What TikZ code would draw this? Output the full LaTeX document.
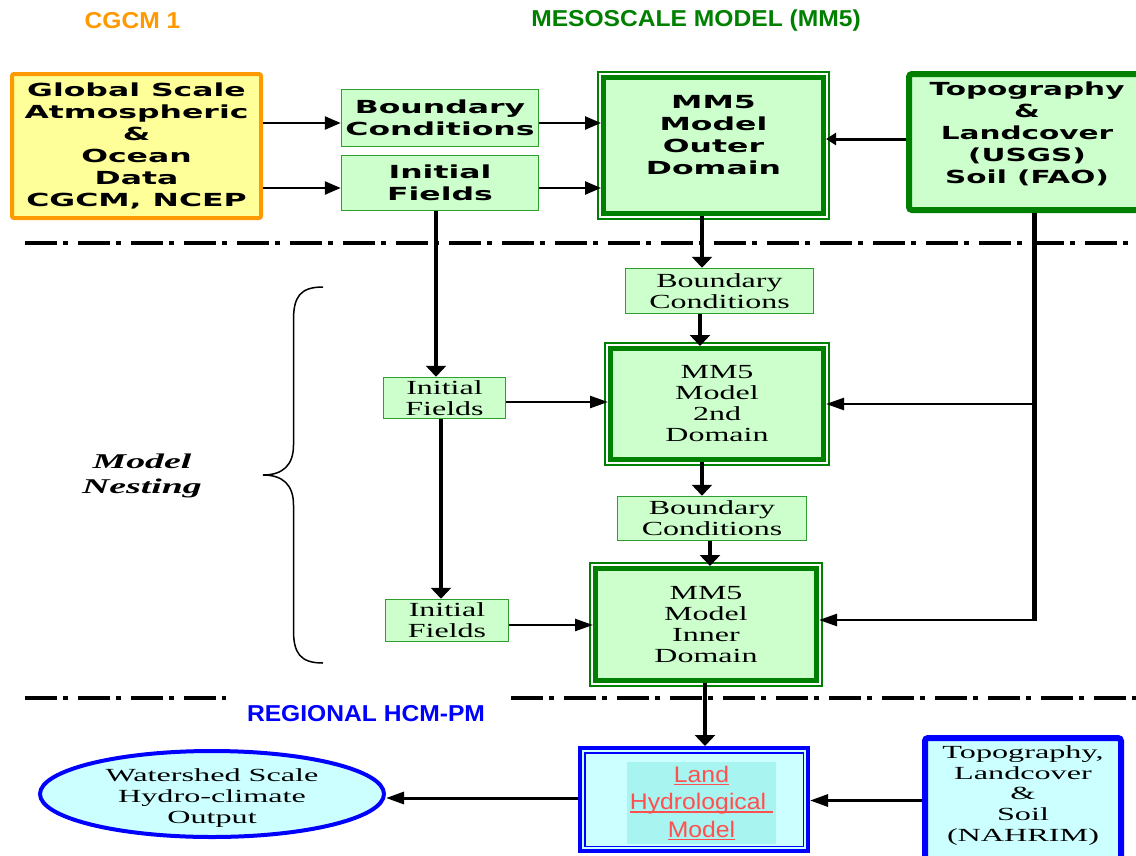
\documentclass[tikz,border=0pt]{standalone}
\usepackage{fontspec}
\usetikzlibrary{arrows.meta,shapes.geometric}
\newfontfamily\topfont[FakeStretch=1.75]{DejaVu Sans}
\newfontfamily\topofont[FakeStretch=1.64]{DejaVu Sans}
\newfontfamily\midfont[FakeStretch=1.6]{Liberation Serif}
\newfontfamily\lowfont[FakeStretch=1.74]{Liberation Serif}
\newfontfamily\nestfont[FakeStretch=1.8]{Liberation Serif}
\newfontfamily\headfont[FakeStretch=1.07]{Liberation Sans}
\newfontfamily\landfont[FakeStretch=1.1]{Liberation Sans}
\newcommand\myul[1]{\setbox0\hbox{#1}\leavevmode\rlap{\rule[-3pt]{\wd0}{1.5pt}}\copy0}
\definecolor{orng}{HTML}{FF9900}
\definecolor{yelo}{HTML}{FFFF99}
\definecolor{dgreen}{HTML}{008000}
\definecolor{sgreen}{HTML}{2E9E2E}
\definecolor{lgreen}{HTML}{CCFFCC}
\definecolor{bblue}{HTML}{0000FF}
\definecolor{lcyan}{HTML}{CCFFFF}
\definecolor{teal2}{HTML}{A8F4F0}
\definecolor{redtxt}{HTML}{FF5050}
\begin{document}
\begin{tikzpicture}[x=1pt,y=-1pt,
  topt/.style={font=\topfont\bfseries\fontsize{18}{22}\selectfont, align=center},
  topot/.style={font=\topofont\bfseries\fontsize{18}{22}\selectfont, align=center},
  midt/.style={font=\midfont\fontsize{20}{21}\selectfont, align=center},
  lowt/.style={font=\lowfont\fontsize{18.5}{20.7}\selectfont, align=center},
  headt/.style={font=\headfont\bfseries\fontsize{23}{26}\selectfont},
  gsabox/.style={draw=orng, line width=4pt, fill=yelo, rounded corners=2pt, inner sep=0pt},
  smallbox/.style={draw=sgreen, line width=1.5pt, fill=lgreen, inner sep=0pt},
  dombox/.style={draw=dgreen, line width=5pt, fill=lgreen, inner sep=0pt},
  topobox/.style={draw=dgreen, line width=6pt, fill=lgreen, rounded corners=3pt, inner sep=0pt},
  bluebox/.style={draw=bblue, line width=4pt, fill=lcyan, inner sep=0pt},
  topo2box/.style={draw=bblue, line width=6pt, fill=lcyan, rounded corners=3pt, inner sep=0pt},
  dashdotline/.style={line width=4.5pt, dash pattern=on 32pt off 6pt on 5pt off 10pt},
  arrA/.style={line width=2.5pt, -{Triangle[length=16pt,width=13pt]}},
  arrV/.style={line width=4.5pt, -{Triangle[length=11pt,width=20pt]}},
  arrH/.style={line width=2.5pt, -{Triangle[length=18pt,width=12pt]}},
  arrS/.style={line width=3pt, -{Triangle[length=10pt,width=12pt]}}
]
\useasboundingbox (0,0) rectangle (1136,855);
\fill[white] (0,0) rectangle (1136,855);
\clip (0,0) rectangle (1136,855);

% headings
\node[headt, text=orng] (h1) at (132.5,21) {CGCM 1};
\node[headt, text=dgreen] (h2) at (696,21) {MESOSCALE MODEL (MM5)};
\node[headt, text=bblue] (h3) at (366,714) {REGIONAL HCM-PM};

% separators
\draw[dashdotline] (25,243) -- (1136,243);
\draw[dashdotline] (25,698) -- (226,698);
\draw[dashdotline] (511,698) -- (1136,698);

% top row
\node[gsabox, topt, minimum width=249pt, minimum height=144pt] (gsa) at (136.5,146)
  {Global Scale\\Atmospheric\\\&\\Ocean\\Data\\CGCM, NCEP};
\node[smallbox, topt, minimum width=197pt, minimum height=57pt] (bc1) at (440,118) {Boundary\\Conditions};
\node[smallbox, topt, minimum width=197pt, minimum height=55pt] (if1) at (440,183) {Initial\\Fields};
\node[dombox, minimum width=220pt, minimum height=136pt] (outer) at (713.5,145.5) {};
\node[topt] (outert) at (713.5,135) {MM5\\Model\\Outer\\Domain};
\node[topobox, minimum width=236pt, minimum height=136pt] (topo) at (1027,142) {};
\node[topot] (topot) at (1027,134) {Topography\\\&\\Landcover\\(USGS)\\Soil (FAO)};

% middle
\node[smallbox, midt, minimum width=188pt, minimum height=45pt] (bc2) at (719.5,291) {Boundary\\Conditions};
\node[dombox, midt, minimum width=213pt, minimum height=111pt] (second) at (717,404) {MM5\\Model\\2nd\\Domain};
\node[smallbox, midt, minimum width=189pt, minimum height=44pt] (bc3) at (712,518.5) {Boundary\\Conditions};
\node[dombox, midt, minimum width=221pt, minimum height=112pt] (inner) at (706,624.5) {MM5\\Model\\Inner\\Domain};
\node[smallbox, midt, minimum width=122pt, minimum height=41pt] (if2) at (444.5,398) {Initial\\Fields};
\node[smallbox, midt, minimum width=123pt, minimum height=42pt] (if3) at (447,620.5) {Initial\\Fields};
\foreach \n in {outer,second,inner}
  \draw[dgreen, line width=2pt] ([shift={(-3,-3)}]\n.north west) rectangle ([shift={(3,3)}]\n.south east);

\node[font=\nestfont\bfseries\itshape\fontsize{21}{25}\selectfont, align=center] (nest) at (142,475.5) {Model\\Nesting};
\draw[line width=1.5pt] (323,287) .. controls (300,287) and (293.5,297) .. (293.5,320) -- (293.5,445)
  .. controls (293.5,465) and (283,475) .. (263,475)
  .. controls (283,475) and (293.5,485) .. (293.5,505) -- (293.5,630)
  .. controls (293.5,653) and (300,663) .. (323,663);

% bottom
\node[ellipse, draw=bblue, line width=4pt, fill=lcyan, inner sep=0pt, minimum width=344pt, minimum height=86pt] (ws) at (212,794) {};
\node[lowt] (wst) at (212,798) {Watershed Scale\\Hydro-climate\\Output};
\node[bluebox, minimum width=228pt, minimum height=103pt] (land) at (694,799.5) {};
\draw[bblue, line width=1.5pt] ([shift={(6.75,6.75)}]land.north west) rectangle ([shift={(-6.75,-6.75)}]land.south east);
\node[fill=teal2, inner sep=0pt, minimum width=149pt, minimum height=82pt, align=center,
  font=\landfont\fontsize{22.5}{27.5}\selectfont, text=redtxt] (landin) at (701.5,803)
  {\myul{Land}\\\myul{Hydrological\ }\\\myul{Model}};
\node[topo2box, minimum width=196pt, minimum height=123pt] (topo2) at (1023,799.5) {};
\node[lowt] (topo2t) at (1023,795.5) {Topography,\\Landcover\\\&\\Soil\\(NAHRIM)};

% connectors top
\coordinate (a1) at ([yshift=-5pt]bc1.west);
\draw[arrA] (gsa.east |- a1) -- (a1);
\coordinate (a2) at ([yshift=-5pt]if1.west);
\draw[arrA] (gsa.east |- a2) -- (a2);
\coordinate (a3) at ([yshift=-5pt]bc1.east);
\draw[arrA] (a3) -- (outer.west |- a3);
\coordinate (a4) at ([yshift=-5pt]if1.east);
\draw[arrA] (a4) -- (outer.west |- a4);
\coordinate (a5) at ([yshift=3pt]topo.west);
\draw[arrS] (a5) -- (outer.east |- a5);

% vertical chain
\coordinate (a6) at ([xshift=-11.5pt]outer.south);
\draw[arrV] (a6) -- (a6 |- bc2.north);
\coordinate (a7) at ([xshift=-19.5pt]bc2.south);
\draw[arrV] (a7) -- (a7 |- second.north);
\coordinate (a8) at ([xshift=-15pt]second.south);
\draw[arrV] (a8) -- (a8 |- bc3.north);
\coordinate (a9) at ([xshift=-2pt]bc3.south);
\draw[arrV] (a9) -- (a9 |- inner.north);
\coordinate (a10) at ([xshift=-1pt]inner.south);
\draw[arrV] (a10) -- (a10 |- land.north);
\coordinate (a11) at ([xshift=-4pt]if1.south);
\draw[arrV] (a11) -- (a11 |- if2.north);
\coordinate (a12) at ([xshift=-3.5pt]if2.south);
\draw[arrV] (a12) -- (a12 |- if3.north);
\coordinate (a13) at ([yshift=-4pt]if2.east);
\draw[arrH] (a13) -- (second.west |- a13);
\coordinate (a14) at ([yshift=-4.5pt]if3.east);
\draw[arrH] (a14) -- (inner.west |- a14);

% topography feed
\coordinate (tj1) at (1034,404);
\coordinate (tj2) at (1034,620);
\draw[line width=5pt] (topo.south -| tj1) -- ([yshift=-1.25pt]tj2);
\draw[arrH] (tj1) -- (second.east |- tj1);
\draw[arrH] (tj2) -- (inner.east |- tj2);

% bottom connectors
\coordinate (a15) at ([yshift=-1pt]topo2.west);
\draw[arrH, line width=3pt] (a15) -- (land.east |- a15);
\coordinate (a16) at ([yshift=1.5pt]land.west);
\draw[arrH, line width=3pt] (a16) -- (ws.east |- a16);
\end{tikzpicture}
\end{document}
